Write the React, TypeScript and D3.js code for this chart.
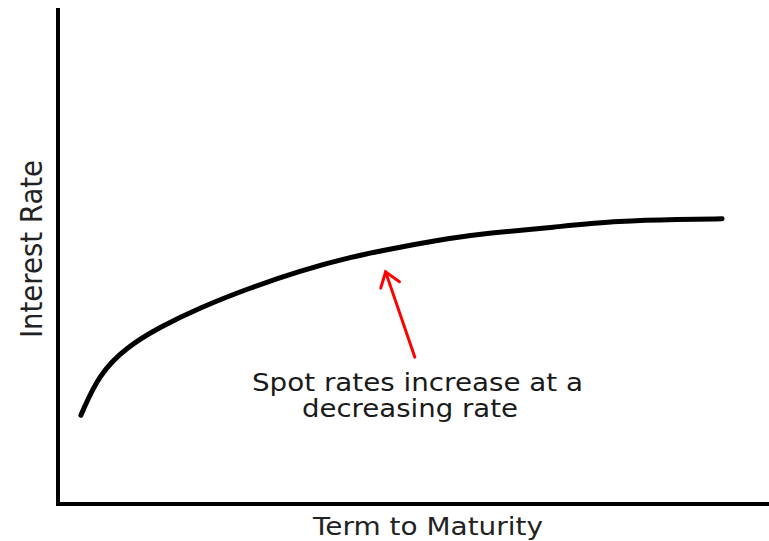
import React from "react";
import * as d3 from "d3";

const termYears = [0.98, 1.75, 2.95, 4.36, 6.07, 8.21, 10.34, 12.48, 14.62, 16.75, 18.33, 21.15, 24.02, 26.58, 28.38];
const spotRates = [1.79, 2.62, 3.17, 3.57, 3.96, 4.36, 4.70, 4.98, 5.18, 5.36, 5.46, 5.58, 5.71, 5.74, 5.75];
const annotationLines = ["Spot rates increase at a", "decreasing rate"];
const xLabel = "Term to Maturity";
const yLabel = "Interest Rate";
// arrow: from (term, rate) to (term, rate)
const arrowFrom = [15.25, 2.96];
const arrowTo = [14.0, 4.68];

const W = 769;
const H = 541;

export default function App() {
  const x = d3.scaleLinear().domain([0, 30]).range([58, 760]);
  const y = d3.scaleLinear().domain([0, 10]).range([504, 8]);
  const pts = termYears.map((t, i) => [x(t), y(spotRates[i])] as [number, number]);
  const line = d3.line().curve(d3.curveBasis);
  const path = line(pts) || "";

  const ax = x(arrowFrom[0]), ay = y(arrowFrom[1]);
  const bx = x(arrowTo[0]), by = y(arrowTo[1]);
  const ang = Math.atan2(by - ay, bx - ax);
  const headLen = 17;
  const spread = 0.62;
  const h1 = [bx - headLen * Math.cos(ang - spread), by - headLen * Math.sin(ang - spread)];
  const h2 = [bx - headLen * Math.cos(ang + spread), by - headLen * Math.sin(ang + spread)];

  const font = "'DejaVu Sans', Verdana, sans-serif";
  return (
    <svg width={W} height={H} style={{ position: "absolute", left: 0, top: 0, background: "#fff" }}>
      {/* axes */}
      <line x1={58} y1={8} x2={58} y2={506} stroke="#000" strokeWidth={4} />
      <line x1={56} y1={504} x2={769} y2={504} stroke="#000" strokeWidth={4} />
      {/* curve */}
      <path d={path} fill="none" stroke="#000" strokeWidth={5} strokeLinecap="round" />
      {/* arrow */}
      <g stroke="#f00" strokeWidth={3} strokeLinecap="round" fill="none">
        <line x1={ax} y1={ay} x2={bx} y2={by} />
        <polyline points={`${h1[0]},${h1[1]} ${bx},${by} ${h2[0]},${h2[1]}`} />
      </g>
      {/* annotation */}
      <text x={252} y={391} fontFamily={font} fontSize={24} fill="#1a1a1a" textLength={331} lengthAdjust="spacingAndGlyphs">
        {annotationLines[0]}
      </text>
      <text x={302} y={417} fontFamily={font} fontSize={24} fill="#1a1a1a" textLength={216} lengthAdjust="spacingAndGlyphs">
        {annotationLines[1]}
      </text>
      {/* x label */}
      <text x={313} y={535} fontFamily={font} fontSize={24} fill="#222" textLength={230} lengthAdjust="spacingAndGlyphs">
        {xLabel}
      </text>
      {/* y label */}
      <text
        transform={`translate(42,338) rotate(-90)`}
        x={0}
        y={0}
        fontFamily={font}
        fontSize={30}
        fill="#222"
        textLength={178}
        lengthAdjust="spacingAndGlyphs"
      >
        {yLabel}
      </text>
    </svg>
  );
}
